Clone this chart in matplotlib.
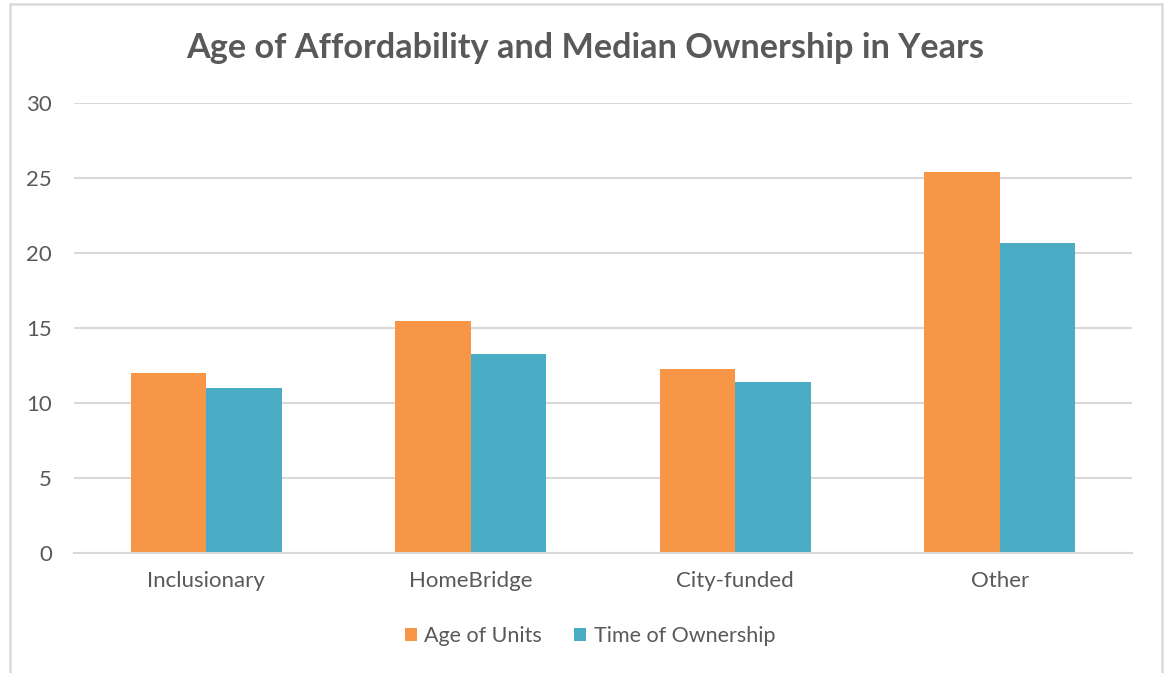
import matplotlib
matplotlib.use("Agg")
import matplotlib.pyplot as plt
from matplotlib.patches import Rectangle
import numpy as np

categories = ["Inclusionary", "HomeBridge", "City-funded", "Other"]
age_of_units = [12.0, 15.5, 12.3, 25.4]
time_of_ownership = [11.0, 13.3, 11.4, 20.7]
series_names = ["Age of Units", "Time of Ownership"]
yticks = [0, 5, 10, 15, 20, 25, 30]
title = "Age of Affordability and Median Ownership in Years"

plt.rcParams['font.family'] = ['Lato', 'DejaVu Sans']
text_color = "#595959"
grid_color = "#D9D9D9"
orange = "#F79646"
teal = "#4BACC6"

W, H = 1169, 673
fig = plt.figure(figsize=(W / 100, H / 100), dpi=100)
ax = fig.add_axes([74 / W, 1 - 553 / H, (1132 - 74) / W, (553 - 103) / H])

x = np.arange(len(categories))
bw = 0.285
ax.bar(x - bw / 2, age_of_units, width=bw, color=orange, label=series_names[0], zorder=3)
ax.bar(x + bw / 2, time_of_ownership, width=bw, color=teal, label=series_names[1], zorder=3)

ax.set_xlim(-0.5, len(categories) - 0.5)
ax.set_ylim(0, 30)
ax.set_yticks(yticks)
ax.set_yticklabels([str(t) for t in yticks])
ax.set_xticks(x)
ax.set_xticklabels(categories)
ax.yaxis.grid(True, color=grid_color, linewidth=1.5, zorder=0)
ax.set_axisbelow(True)
for s in ["top", "right", "left"]:
    ax.spines[s].set_visible(False)
ax.spines["bottom"].set_color(grid_color)
ax.spines["bottom"].set_linewidth(1.5)
ax.spines["bottom"].set_zorder(4)
ax.tick_params(axis="both", length=0, colors=text_color, labelsize=16)
ax.tick_params(axis="y", pad=16)
ax.tick_params(axis="x", pad=13)

fig.text(585 / W, 1 - 48 / H, title, ha="center", va="center",
         fontsize=24.7, fontweight="bold", color=text_color)

leg = fig.legend(loc="center", bbox_to_anchor=(590 / W, 1 - 636 / H), ncol=2,
                 frameon=False, fontsize=15.5, handlelength=0.55, handleheight=0.55,
                 columnspacing=1.5, handletextpad=0.35)
for t in leg.get_texts():
    t.set_color(text_color)

border = Rectangle((10 / W, -0.05), (1162 - 10) / W, 1 - 4 / H + 0.05,
                   transform=fig.transFigure, fill=False, edgecolor=grid_color,
                   linewidth=1.8)
fig.patches.append(border)

fig.savefig("out.png", dpi=100)
